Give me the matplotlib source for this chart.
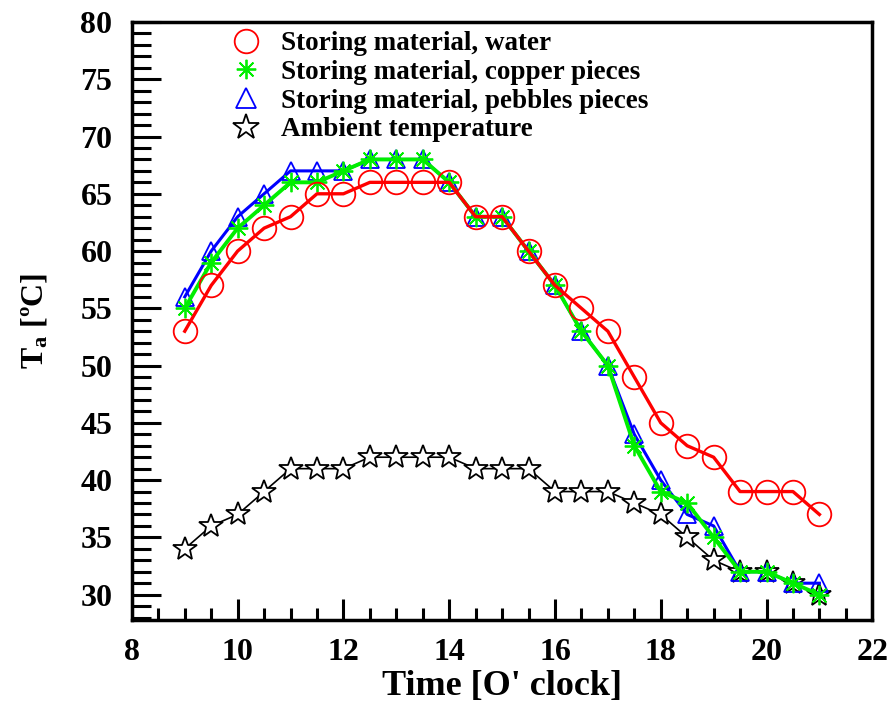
import numpy as np
import matplotlib
matplotlib.use('Agg')
import matplotlib.pyplot as plt
from matplotlib.lines import Line2D
from matplotlib.ticker import MultipleLocator

plt.rcParams['font.family'] = ['Liberation Serif', 'DejaVu Serif']
plt.rcParams['font.weight'] = 'bold'
plt.rcParams['mathtext.default'] = 'regular'

# data (half-hour readings, 9:00 - 21:00)
time_h = [9, 9.5, 10, 10.5, 11, 11.5, 12, 12.5, 13, 13.5, 14, 14.5, 15,
          15.5, 16, 16.5, 17, 17.5, 18, 18.5, 19, 19.5, 20, 20.5, 21]
water = [53, 57, 60, 62, 63, 65, 65, 66, 66, 66, 66, 63, 63,
         60, 57, 55, 53, 49, 45, 43, 42, 39, 39, 39, 37]
copper = [55, 59, 62, 64, 66, 66, 67, 68, 68, 68, 66, 63, 63,
          60, 57, 53, 50, 43, 39, 38, 35, 32, 32, 31, 30]
pebbles = [56, 60, 63, 65, 67, 67, 67, 68, 68, 68, 66, 63, 63,
           60, 57, 53, 50, 44, 40, 37, 36, 32, 32, 31, 31]
ambient = [34, 36, 37, 39, 41, 41, 41, 42, 42, 42, 42, 41, 41,
           41, 39, 39, 39, 38, 37, 35, 33, 32, 32, 31, 30]

labels = ['Storing material, water',
          'Storing material, copper pieces',
          'Storing material, pebbles pieces',
          'Ambient temperature']

fig = plt.figure(figsize=(8.91, 7.10), dpi=100)
ax = fig.add_axes([0.148, 0.127, 0.831, 0.842])

ax.plot(time_h, ambient, color='black', lw=1.2, marker='*', ms=18,
        mfc='white', mec='black', mew=1.3, zorder=2)
ax.plot(time_h, pebbles, color='blue', lw=2.2, marker='^', ms=13,
        mfc='none', mec='blue', mew=1.3, zorder=3)
ax.plot(time_h, copper, color='#00ee00', lw=2.8, marker=(8, 2, 0), ms=14,
        mec='#00ee00', mew=1.3, zorder=4)
ax.plot(time_h, water, color='red', lw=2.4, marker='o', ms=17,
        mfc='none', mec='red', mew=1.3, zorder=5)

handles = [
    Line2D([], [], ls='none', marker='o', ms=17, mfc='none', mec='red', mew=1.3),
    Line2D([], [], ls='none', marker=(8, 2, 0), ms=14, mec='#00ee00', mew=1.3),
    Line2D([], [], ls='none', marker='^', ms=15, mfc='none', mec='blue', mew=1.3),
    Line2D([], [], ls='none', marker='*', ms=19, mfc='white', mec='black', mew=1.3),
]
ax.legend(handles, labels, loc='upper left', bbox_to_anchor=(0.095, 1.012),
          frameon=False, fontsize=19.5, handletextpad=0.3, labelspacing=0.14,
          borderaxespad=0.2)

ax.set_xlim(8, 22)
ax.set_ylim(27.8, 80)
ax.xaxis.set_major_locator(MultipleLocator(2))
ax.xaxis.set_minor_locator(MultipleLocator(0.5))
ax.yaxis.set_major_locator(MultipleLocator(5))
ax.yaxis.set_minor_locator(MultipleLocator(1))

ax.tick_params(axis='both', which='both', direction='in', width=2.2,
               top=False, right=False, labelsize=23)
ax.tick_params(axis='y', which='major', length=21, pad=14)
ax.tick_params(axis='y', which='minor', length=14)
ax.tick_params(axis='x', which='major', length=15, pad=13)
ax.tick_params(axis='x', which='minor', length=9)
for lab in ax.get_xticklabels() + ax.get_yticklabels():
    lab.set_fontweight('bold')
for sp in ax.spines.values():
    sp.set_linewidth(2.5)

ax.set_xlabel("Time [O' clock]", fontsize=26, fontweight='bold', labelpad=2)
ax.set_ylabel(r'T$_\mathregular{a}$ [ºC]', fontsize=23, fontweight='bold', labelpad=22)

fig.savefig('out.png', dpi=100, facecolor='white')
